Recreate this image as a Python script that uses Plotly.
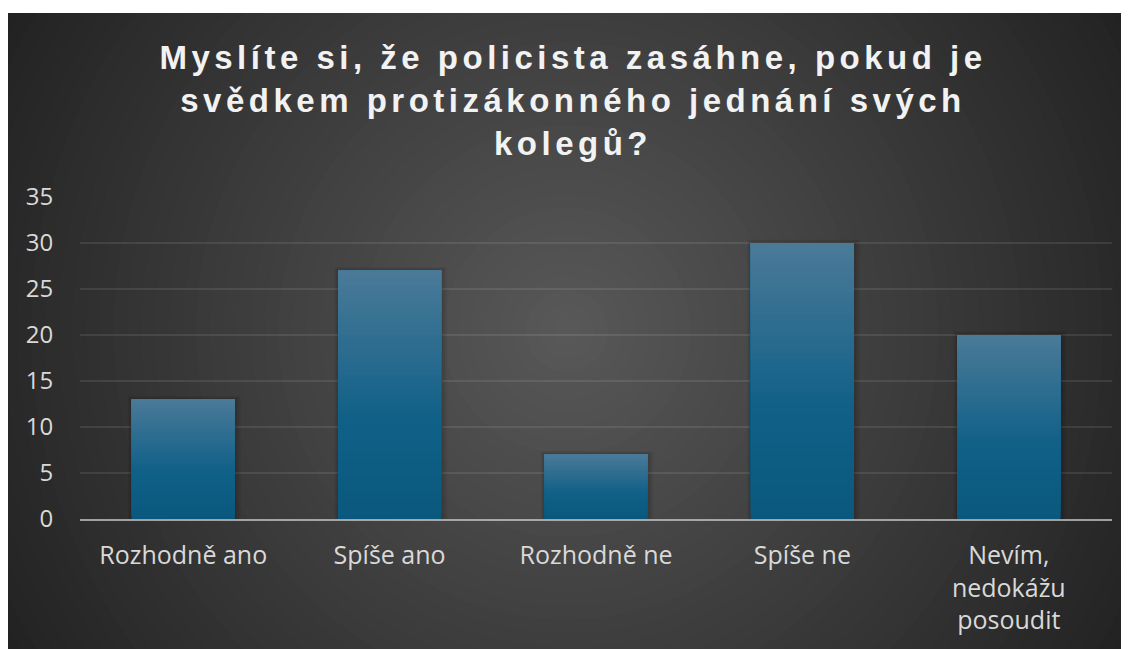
import plotly.graph_objects as go

categories = ["Rozhodně ano", "Spíše ano", "Rozhodně ne", "Spíše ne", "Nevím,<br>nedokážu<br>posoudit"]
values = [13, 27, 7, 30, 20]
y_ticks = [0, 5, 10, 15, 20, 25, 30, 35]
title_lines = ["Myslíte si, že policista zasáhne, pokud je", "svědkem protizákonného jednání svých", "kolegů?"]

# page has an 8px body margin; figure coordinates = page coordinates - 8
OFF = 8
W, H = 1129 - OFF, 649 - OFF
ML, MR, MT, MB = 72, 17, 189, 130
PW, PH = W - ML - MR, H - MT - MB


def px_x(p):
    return (p - ML) / PW


def px_y(p):
    return (H - MB - p) / PH


def lerp(c1, c2, t):
    return "rgb(%d,%d,%d)" % tuple(round(a + (b - a) * t) for a, b in zip(c1, c2))


shapes = []
# dark chart background
shapes.append(dict(type="rect", xref="paper", yref="paper", x0=px_x(-5), x1=px_x(W + 5),
                   y0=px_y(H + 5), y1=px_y(5), fillcolor="#232323", line_width=0, layer="below"))
# radial gradient
cx, cy = 559, 323
rmax = 660
n = 48
outer = (0x21, 0x21, 0x21)
inner = (0x58, 0x58, 0x58)
for k in range(n):
    r = rmax * (1 - k / n)
    t = k / (n - 1)
    shapes.append(dict(type="circle", xref="paper", yref="paper", xsizemode="pixel", ysizemode="pixel",
                       xanchor=px_x(cx), yanchor=px_y(cy), x0=-r, x1=r, y0=-r, y1=r,
                       fillcolor=lerp(outer, inner, t), line_width=0, layer="below"))
# white top margin
shapes.append(dict(type="rect", xref="paper", yref="paper", x0=px_x(-5), x1=px_x(W + 5),
                   y0=px_y(5), y1=px_y(-5), fillcolor="white", line_width=0, layer="below"))

# bar shadows and gradient overlays
bw = 0.5
half_px = bw * PW / len(categories) / 2
top_c = (0x4b, 0x7a, 0x98)
mid_c = (0x10, 0x60, 0x88)
bot_c = (0x0a, 0x58, 0x7d)
STOP = 0.6


def bar_color(f):
    if f <= STOP:
        return lerp(top_c, mid_c, f / STOP)
    return lerp(mid_c, bot_c, (f - STOP) / (1 - STOP))


gap_units = 1.8 * 35 / PH
for i, v in enumerate(values):
    for s, op in [(6, 0.05), (4, 0.06), (2, 0.07)]:
        shapes.append(dict(type="rect", xref="x", yref="y", xsizemode="pixel", xanchor=i,
                           x0=-half_px - s * 0.6, x1=half_px + s,
                           y0=0, y1=v + s * 0.6 * 35 / PH, fillcolor="rgba(0,0,0,%g)" % op,
                           line_width=0, layer="between"))
    m = 50
    for k in range(m - 1, -1, -1):
        f0 = k / m
        f1 = (k + 1) / m
        shapes.append(dict(type="rect", xref="x", yref="y",
                           x0=i - bw / 2, x1=i + bw / 2,
                           y0=max(v * (1 - f1), gap_units), y1=v,
                           fillcolor=bar_color((f0 + f1) / 2), line_width=0, layer="above"))

fig = go.Figure()
fig.add_trace(go.Bar(x=list(range(len(categories))), y=values, width=bw,
                     marker=dict(color=bar_color(1.0), line_width=0),
                     hoverinfo="skip"))

title_text = "<br>".join(title_lines)
fig.update_layout(
    width=W, height=H,
    margin=dict(l=ML, r=MR, t=MT, b=MB, pad=0),
    paper_bgcolor="white",
    plot_bgcolor="rgba(0,0,0,0)",
    showlegend=False,
    shapes=shapes,
    title=dict(text='<span style="letter-spacing:4.5px">' + title_text + '</span>',
               x=565 / W, xanchor="center",
               y=1 - 61 / H, yanchor="top",
               font=dict(family="Liberation Sans, Arial", size=33, color="#f2f2f2", weight="bold")),
    font=dict(family="Open Sans", color="#d9d9d9"),
    xaxis=dict(tickmode="array", tickvals=list(range(len(categories))), ticktext=categories,
               range=[-0.5, len(categories) - 0.5], showgrid=False, zeroline=False,
               showline=True, linecolor="rgba(200,200,200,0.75)", linewidth=2,
               ticks="outside", ticklen=13, tickcolor="rgba(0,0,0,0)",
               tickfont=dict(family="Open Sans", size=25, color="#d9d9d9")),
    yaxis=dict(range=[0, 35], tickmode="array", tickvals=y_ticks, showgrid=True,
               gridcolor="rgba(255,255,255,0.09)", gridwidth=2, zeroline=False, showline=False,
               ticks="outside", ticklen=21, tickcolor="rgba(0,0,0,0)",
               tickfont=dict(family="Open Sans", size=24, color="#d9d9d9")),
    bargap=0.5,
)

fig.write_html("out.html")
